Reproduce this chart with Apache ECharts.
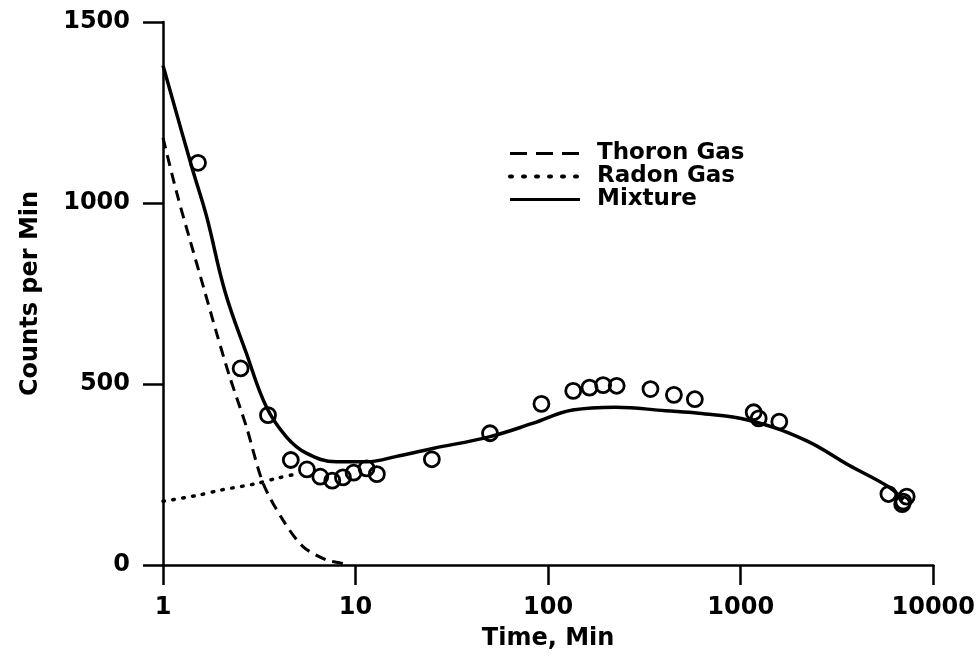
<!DOCTYPE html>
<html>
<head>
<meta charset="utf-8">
<script src="https://cdn.jsdelivr.net/npm/echarts@6/dist/echarts.min.js"></script>
<style>
html,body{margin:0;padding:0;background:#fff;}
#c{width:978px;height:666px;}
</style>
</head>
<body>
<div id="c"></div>
<script>
// Data
var xTicks = [1, 10, 100, 1000, 10000];
var yTicks = [0, 500, 1000, 1500];

var mixtureX = [1, 1.41, 1.68, 2.1, 2.71, 3.44, 4.37, 5.55, 7.94, 11.4, 16.9, 25.2, 49.4, 83, 134, 224, 407, 606, 1100, 2162, 3630, 5850, 7000];
var mixtureY = [1380, 1100, 965, 755, 585, 437, 354, 309, 285, 285, 302, 322, 354, 391, 428, 436, 426, 419, 400, 345, 276, 216, 180];

var thoronX = [1, 1.18, 1.38, 1.62, 1.9, 2.22, 2.71, 3.31, 4.2, 5.33, 7.05, 8.43, 9.2];
var thoronY = [1180, 1027, 898, 769, 640, 520, 382, 226, 124, 51, 14, 5, 0];

var radonX = [1, 1.5, 2, 3, 4, 5.1];
var radonY = [176, 192, 207, 224, 241, 253];

var obsX = [1.52, 2.53, 3.51, 4.61, 5.59, 6.56, 7.57, 8.6, 9.77, 11.4, 12.9, 24.9, 49.9, 92.3, 135, 164, 193, 227, 340, 450, 578, 1168, 1240, 1587, 5850, 6990, 7280, 6900];
var obsY = [1111, 543, 414, 290, 264, 244, 233, 242, 255, 267, 251, 292, 364, 445, 481, 490, 497, 495, 486, 470, 458, 422, 405, 396, 196, 175, 189, 168];

function pairs(xs, ys){ return xs.map(function(x,i){ return [x, ys[i]]; }); }

var FONT = 'DejaVu Sans';
var chart = echarts.init(document.getElementById('c'), null, {renderer:'canvas'});
chart.setOption({
  backgroundColor: '#fff',
  animation: false,
  grid: {left: 163, right: 43, top: 22, bottom: 101, containLabel: false},
  legend: {
    orient: 'vertical',
    left: 503,
    top: 137,
    itemWidth: 70,
    itemHeight: 12,
    itemGap: 0,
    data: [
      {name: 'Thoron Gas', lineStyle: {type: [17, 9], width: 3}},
      {name: 'Radon Gas', lineStyle: {type: [2, 11], width: 4, cap: 'round'}},
      {name: 'Mixture', lineStyle: {width: 3}}
    ],
    itemStyle: {color: 'rgba(0,0,0,0)', borderWidth: 0, opacity: 0},
    textStyle: {fontFamily: FONT, fontWeight: 'bold', fontSize: 23, lineHeight: 21, color: '#000', padding: [0,0,0,12]}
  },
  xAxis: {
    type: 'log', logBase: 10, min: xTicks[0], max: xTicks[xTicks.length-1],
    name: 'Time, Min', nameLocation: 'middle', nameGap: 62,
    nameTextStyle: {fontFamily: FONT, fontWeight: 'bold', fontSize: 24, color: '#000'},
    axisLine: {lineStyle: {color: '#000', width: 2.5}},
    axisTick: {show: true, length: 20, lineStyle: {color: '#000', width: 2.5}},
    minorTick: {show: false},
    splitLine: {show: false},
    axisLabel: {margin: 31, fontFamily: FONT, fontWeight: 'bold', fontSize: 24, color: '#000',
      formatter: function(v){ return String(Math.round(v)); }}
  },
  yAxis: {
    type: 'value', min: yTicks[0], max: yTicks[yTicks.length-1], interval: 500,
    name: 'Counts per Min', nameLocation: 'middle', nameGap: 120, nameRotate: 90,
    nameTextStyle: {fontFamily: FONT, fontWeight: 'bold', fontSize: 24, color: '#000'},
    axisLine: {show: true, lineStyle: {color: '#000', width: 2.5}},
    axisTick: {show: true, length: 20, lineStyle: {color: '#000', width: 2.5}},
    splitLine: {show: false},
    axisLabel: {margin: 33, fontFamily: FONT, fontWeight: 'bold', fontSize: 24, color: '#000',
      formatter: function(v){ return String(v); }}
  },
  series: [
    {
      name: 'Thoron Gas', type: 'line', smooth: 0.3, symbol: 'none',
      data: pairs(thoronX, thoronY),
      lineStyle: {color: '#000', width: 3, type: [11, 7]},
      itemStyle: {color: '#000'}
    },
    {
      name: 'Radon Gas', type: 'line', smooth: 0.3, symbol: 'none',
      data: pairs(radonX, radonY),
      lineStyle: {color: '#000', width: 3.5, type: [1.5, 8.5], cap: 'round'},
      itemStyle: {color: '#000'}
    },
    {
      name: 'Mixture', type: 'line', smooth: 0.4, symbol: 'none',
      data: pairs(mixtureX, mixtureY),
      lineStyle: {color: '#000', width: 3.5},
      itemStyle: {color: '#000'}
    },
    {
      name: 'Observed', type: 'scatter', symbol: 'circle', symbolSize: 15,
      data: pairs(obsX, obsY),
      itemStyle: {color: 'rgba(0,0,0,0)', borderColor: '#000', borderWidth: 2.8, opacity: 1}
    }
  ]
});
</script>
</body>
</html>
